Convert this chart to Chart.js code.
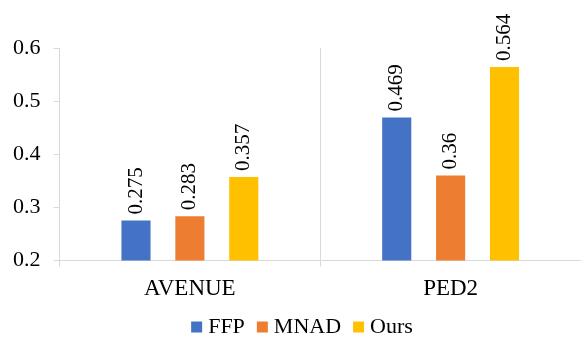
<!DOCTYPE html>
<html><head><meta charset="utf-8">
<script src="https://cdn.jsdelivr.net/npm/chart.js@4"></script>
<style>html,body{margin:0;padding:0;background:#fff}#wrap{width:581px;height:349px}</style>
</head><body><div id="wrap"><canvas id="c"></canvas></div>
<script>
const categories = ["AVENUE", "PED2"];
const seriesNames = ["FFP", "MNAD", "Ours"];
const ffp = [0.275, 0.469];
const mnad = [0.283, 0.36];
const ours = [0.357, 0.564];
const yTicks = [0.2, 0.3, 0.4, 0.5, 0.6];
const colors = ["#4472C4", "#ED7D31", "#FFC000"];
const FONT = "'Liberation Serif', 'Times New Roman', serif";

const labelPlugin = {
  id: 'barLabels',
  afterDatasetsDraw(chart) {
    const ctx = chart.ctx;
    ctx.save();
    ctx.font = "21px " + FONT;
    ctx.fillStyle = "#000";
    ctx.textAlign = "left";
    ctx.textBaseline = "middle";
    chart.data.datasets.forEach((ds, i) => {
      chart.getDatasetMeta(i).data.forEach((bar, j) => {
        ctx.save();
        ctx.translate(bar.x, bar.y - 6);
        ctx.rotate(-Math.PI / 2);
        ctx.fillText(String(ds.data[j]), 0, 0);
        ctx.restore();
      });
    });
    ctx.restore();
  }
};

const legendPlugin = {
  id: 'customLegend',
  afterDraw(chart) {
    const ctx = chart.ctx;
    ctx.save();
    ctx.font = "22px " + FONT;
    ctx.textBaseline = "middle";
    ctx.textAlign = "left";
    const box = 11, gap = 6, itemGap = 12;
    const widths = chart.data.datasets.map(d => ctx.measureText(d.label).width);
    const total = widths.reduce((a, w) => a + box + gap + w, 0) + itemGap * (widths.length - 1);
    let x = 302 - total / 2;
    const cy = 327;
    chart.data.datasets.forEach((d, i) => {
      ctx.fillStyle = d.backgroundColor;
      ctx.fillRect(x, cy - box / 2, box, box);
      ctx.fillStyle = "#000";
      ctx.fillText(d.label, x + box + gap, cy);
      x += box + gap + widths[i] + itemGap;
    });
    ctx.restore();
  }
};

const sets = [ffp, mnad, ours];
new Chart(document.getElementById('c'), {
  type: 'bar',
  data: {
    labels: categories,
    datasets: seriesNames.map((n, i) => ({
      label: n, data: sets[i], backgroundColor: colors[i],
      categoryPercentage: 0.62, barPercentage: 0.54
    }))
  },
  options: {
    responsive: true, maintainAspectRatio: false, animation: false,
    devicePixelRatio: 1,
    layout: { padding: { left: 0, right: 0, top: 48, bottom: 37 } },
    plugins: {
      legend: { display: false },
      tooltip: { enabled: false }
    },
    scales: {
      x: {
        grid: { color: '#d9d9d9', offset: true, tickLength: 6, lineWidth: 1 },
        border: { color: '#d9d9d9' },
        ticks: { font: { family: FONT, size: 23 }, color: '#000', padding: 9 }
      },
      y: {
        min: 0.2, max: 0.6,
        afterBuildTicks(s) { s.ticks = yTicks.map(v => ({ value: v })); },
        grid: { drawOnChartArea: false, color: '#d9d9d9', tickLength: 6 },
        border: { color: '#d9d9d9' },
        ticks: { font: { family: FONT, size: 22 }, color: '#000', padding: 13,
          callback: v => v.toFixed(1) }
      }
    }
  },
  plugins: [labelPlugin, legendPlugin]
});
</script></body></html>
